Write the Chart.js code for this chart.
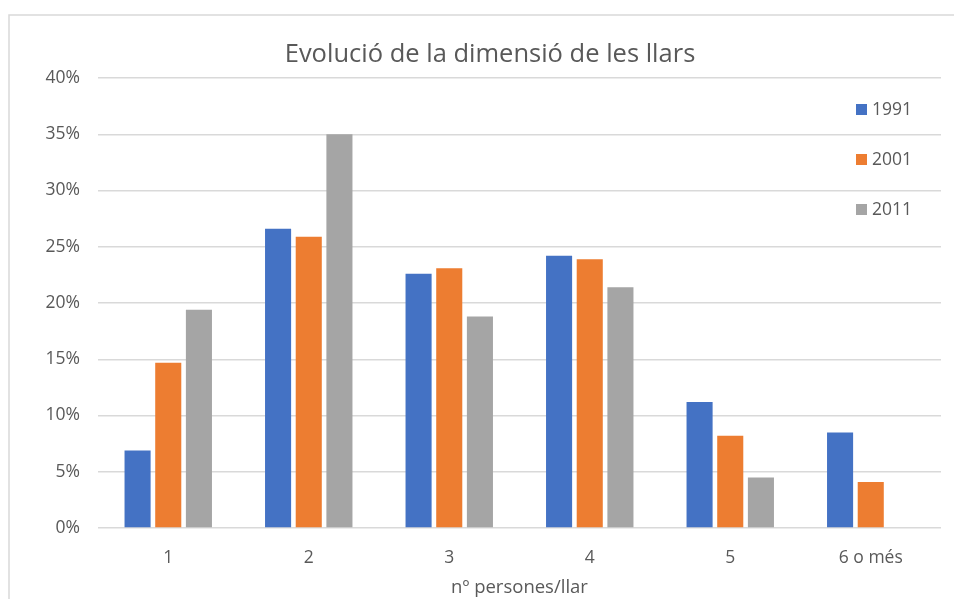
<!DOCTYPE html>
<html>
<head>
<meta charset="utf-8">
<script src="https://cdn.jsdelivr.net/npm/chart.js@4/dist/chart.umd.min.js"></script>
<style>
  html, body { margin: 0; padding: 0; background: #ffffff; }
  #wrap { width: 954px; height: 599px; position: relative; }
</style>
</head>
<body>
<div id="wrap"><canvas id="chart" width="954" height="599"></canvas></div>
<script>
// Household size categories and share of households (%) per census year
const categories = ['1', '2', '3', '4', '5', '6 o més'];
const years = ['1991', '2001', '2011'];
const values1991 = [6.9, 26.6, 22.6, 24.2, 11.2, 8.5];
const values2001 = [14.7, 25.9, 23.1, 23.9, 8.2, 4.1];
const values2011 = [19.4, 35.0, 18.8, 21.4, 4.5, null];
const yTicks = [0, 5, 10, 15, 20, 25, 30, 35, 40];

const colors = ['#4472C4', '#ED7D31', '#A5A5A5'];
const FONT = "'Open Sans', 'Noto Sans', sans-serif";
const TEXT = '#595959';

// Outer frame of the chart box
const framePlugin = {
  id: 'frame',
  beforeDraw(chart) {
    const ctx = chart.ctx;
    ctx.save();
    ctx.fillStyle = '#ffffff';
    ctx.fillRect(0, 0, chart.width, chart.height);
    ctx.strokeStyle = '#d9d9d9';
    ctx.lineWidth = 1.5;
    ctx.strokeRect(9, 15, chart.width + 20, chart.height + 20);
    ctx.restore();
  }
};

// Vertical legend placed inside the plot, top right
const insideLegend = {
  id: 'insideLegend',
  afterDatasetsDraw(chart) {
    const ctx = chart.ctx;
    const area = chart.chartArea;
    ctx.save();
    ctx.font = '17.5px ' + FONT;
    ctx.textBaseline = 'middle';
    ctx.textAlign = 'left';
    chart.data.datasets.forEach((ds, i) => {
      const y = area.top + 32 + i * 50;
      const x = area.right - 85;
      ctx.fillStyle = ds.backgroundColor;
      ctx.fillRect(x, y - 6, 11, 11);
      ctx.fillStyle = TEXT;
      ctx.fillText(ds.label, x + 16, y);
    });
    ctx.restore();
  }
};

const datasets = [values1991, values2001, values2011].map((vals, i) => ({
  label: years[i],
  data: vals,
  backgroundColor: colors[i],
  borderWidth: 0,
  categoryPercentage: 0.655,
  barPercentage: 0.85
}));

new Chart(document.getElementById('chart'), {
  type: 'bar',
  data: { labels: categories, datasets },
  plugins: [framePlugin, insideLegend],
  options: {
    responsive: false,
    animation: false,
    layout: { padding: { left: 39, right: 13, top: 0, bottom: 0 } },
    plugins: {
      legend: { display: false },
      tooltip: { enabled: false },
      title: {
        display: true,
        text: 'Evolució de la dimensió de les llars',
        color: TEXT,
        font: { family: FONT, size: 25.5, weight: 'normal' },
        padding: { top: 39, bottom: 8.4 }
      }
    },
    scales: {
      x: {
        grid: { display: false, drawTicks: false },
        border: { display: false },
        ticks: { color: TEXT, font: { family: FONT, size: 17.5 }, padding: 19.5 },
        title: {
          display: true,
          text: 'nº persones/llar',
          color: TEXT,
          font: { family: FONT, size: 18.5 },
          padding: { top: 0, bottom: 0 }
        },
        afterFit(scale) { scale.height = 71; }
      },
      y: {
        min: 0,
        max: 40,
        afterBuildTicks(scale) { scale.ticks = yTicks.map(v => ({ value: v })); },
        grid: { color: '#d9d9d9', lineWidth: 1.5, drawTicks: false },
        border: { display: false },
        ticks: {
          color: TEXT,
          font: { family: FONT, size: 17.5 },
          padding: 18,
          callback: v => v + '%'
        },
        afterFit(scale) { scale.width = 59; }
      }
    }
  }
});
</script>
</body>
</html>
